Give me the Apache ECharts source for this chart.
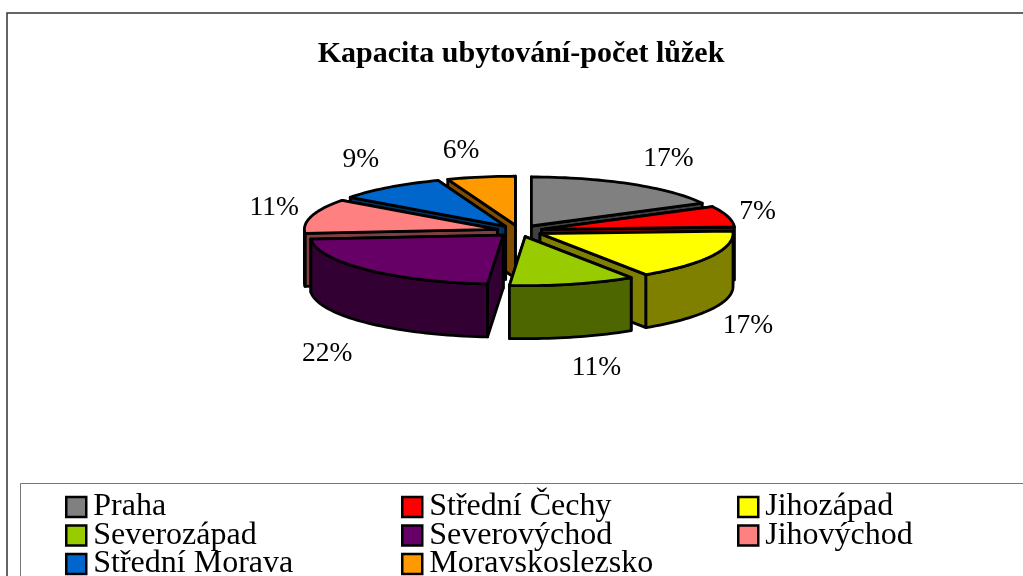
<!DOCTYPE html>
<html><head><meta charset="utf-8">
<style>html,body{margin:0;padding:0;background:#fff;overflow:hidden}#c{width:1023px;height:576px}</style>
<script src="https://cdn.jsdelivr.net/npm/echarts@6/dist/echarts.min.js"></script>
</head><body><div id="c"></div>
<script>
var titleText = 'Kapacita ubytování-počet lůžek';
var regions = ['Praha','Střední Čechy','Jihozápad','Severozápad','Severovýchod','Jihovýchod','Střední Morava','Moravskoslezsko'];
var shares = [17.3,6.9,16.55,10.55,22.4,11.4,9.2,5.7];
var colors = ['#808080','#ff0000','#ffff00','#99cc00','#660066','#ff8080','#0066cc','#ff9900'];
var walls  = ['#404040','#800000','#808000','#4d6600','#330033','#804040','#003366','#804d00'];
var labelNudge = [[17,-22],[-8,-13],[1,47],[14,50],[-12,56],[0,-17],[-5,-25],[-13,-20]];

var FONT='"Liberation Serif","Times New Roman",serif';
var geo={cx:519.5,cy:231,rx:193,ry:49,depth:53,explode:23,labelR:255,labelRy:75,labelCy:245};
var total=shares.reduce(function(a,b){return a+b;},0);
var cum=0;
var spans=shares.map(function(v){var a=cum/total*2*Math.PI;cum+=v;return [a,cum/total*2*Math.PI];});

function pt(ax,ay,ang,dz){return [ax+geo.rx*Math.sin(ang),ay-geo.ry*Math.cos(ang)+(dz||0)];}
function arcPts(ax,ay,a,b,dz){var n=Math.max(2,Math.ceil((b-a)/0.03)),r=[];for(var i=0;i<=n;i++){r.push(pt(ax,ay,a+(b-a)*i/n,dz));}return r;}
function poly(points,fill){return {type:'polygon',shape:{points:points},style:{fill:fill,stroke:'#000',lineWidth:2.8,lineJoin:'round'}};}

function renderSlice(i){
  return function(params,api){
    var share=api.value(0);
    var s=spans[i],mid=(s[0]+s[1])/2;
    var ax=geo.cx+geo.explode*Math.sin(mid);
    var ay=geo.cy-geo.explode*geo.ry/geo.rx*Math.cos(mid);
    var d=geo.depth,kids=[];
    var faces=[s[0],s[1]].sort(function(p,q){return -Math.cos(p)+Math.cos(q);});
    faces.forEach(function(a){
      var e=pt(ax,ay,a);
      kids.push(poly([[ax,ay],e,[e[0],e[1]+d],[ax,ay+d]],walls[i]));
    });
    var lo=Math.max(s[0],Math.PI/2),hi=Math.min(s[1],Math.PI*1.5);
    if(hi>lo){
      var topEdge=arcPts(ax,ay,lo,hi,0),botEdge=arcPts(ax,ay,lo,hi,d).reverse();
      kids.push(poly(topEdge.concat(botEdge),walls[i]));
    }
    kids.push(poly([[ax,ay]].concat(arcPts(ax,ay,s[0],s[1],0)),colors[i]));
    var n=labelNudge[i];
    kids.push({type:'text',style:{
      text:Math.round(share/total*100)+'%',
      x:geo.cx+geo.labelR*Math.sin(mid)+n[0],
      y:geo.labelCy-geo.labelRy*Math.cos(mid)+n[1],
      align:'center',verticalAlign:'middle',fontSize:27.5,fontFamily:FONT,fill:'#000'}});
    return {type:'group',children:kids};
  };
}

var order=regions.map(function(_,i){return i;}).sort(function(p,q){
  var mp=(spans[p][0]+spans[p][1])/2,mq=(spans[q][0]+spans[q][1])/2;
  return Math.cos(mq)-Math.cos(mp);
});
var series=order.map(function(i){
  return {type:'custom',name:regions[i],coordinateSystem:'none',silent:true,clip:false,
    itemStyle:{color:colors[i]},data:[[shares[i]]],renderItem:renderSlice(i)};
});

function legendCol(names,left){
  return {data:names,orient:'vertical',left:left,top:491,height:300,padding:0,itemGap:-3.5,itemWidth:20,itemHeight:20,
    icon:'rect',selectedMode:false,itemStyle:{borderColor:'#000',borderWidth:2.5},
    textStyle:{fontFamily:FONT,fontSize:32,color:'#000',padding:[0,0,0,2]}};
}

var chart=echarts.init(document.getElementById('c'),null,{renderer:'canvas'});
chart.setOption({
  animation:false,backgroundColor:'#fff',
  title:{text:titleText,left:521,top:39,textAlign:'center',padding:0,
    textStyle:{fontFamily:FONT,fontSize:30,fontWeight:'bold',color:'#000'}},
  legend:[legendCol([regions[0],regions[3],regions[6]],65),
          legendCol([regions[1],regions[4],regions[7]],401),
          legendCol([regions[2],regions[5]],737)],
  graphic:[
    {type:'rect',silent:true,shape:{x:7,y:13,width:1100,height:700},style:{fill:'none',stroke:'#333',lineWidth:1.5}},
    {type:'rect',silent:true,shape:{x:20.5,y:483.5,width:1100,height:200},style:{fill:'none',stroke:'#777',lineWidth:1}}
  ],
  series:series
});
</script></body></html>
